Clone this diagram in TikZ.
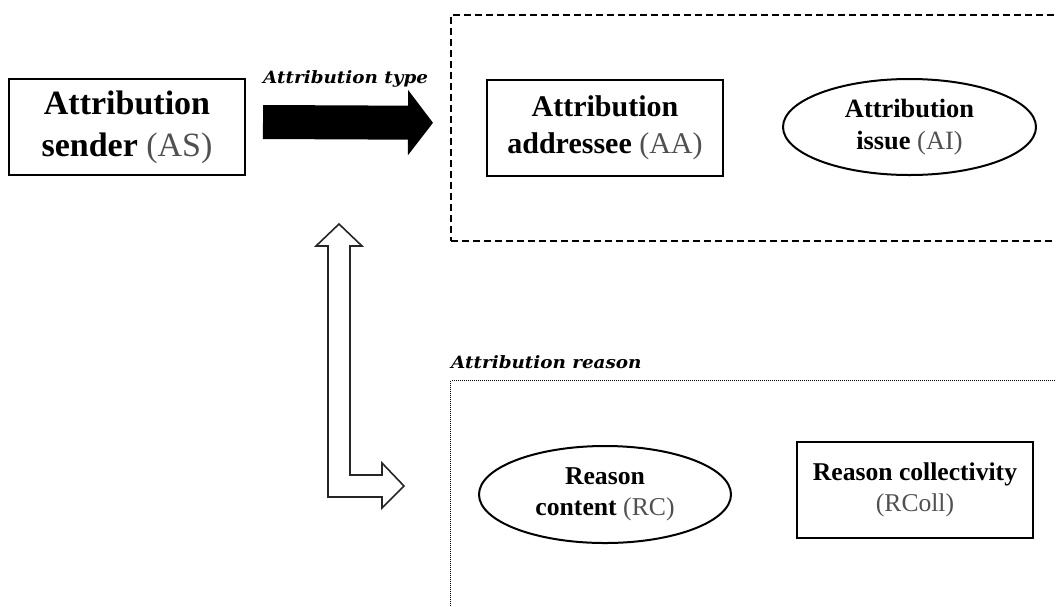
\documentclass[tikz,border=0pt]{standalone}
\usepackage{fontspec}
\setmainfont{Liberation Serif}
\newfontfamily\labelfont[FakeStretch=1.08]{DejaVu Serif}
\usepackage{tikz}
\usetikzlibrary{shapes,arrows.meta,positioning}
\definecolor{parengray}{HTML}{505050}
\newcommand{\abbr}[1]{{\mdseries\color{parengray}(#1)}}
\newcommand{\fs}[1]{\fontsize{#1}{1.23\dimexpr #1pt\relax}\selectfont\bfseries}

\begin{document}
\begin{tikzpicture}[x=1pt,y=-1pt,
	box/.style={rectangle,draw,line width=2pt,minimum width=236pt,minimum height=96pt,align=center,inner sep=2pt},
	oval/.style={box,ellipse,minimum width=253pt},
	grouplabel/.style={anchor=base west,inner sep=0pt,font=\labelfont\fontsize{17}{20}\selectfont\bfseries\itshape},
	typegroup/.style={draw,line width=1.6pt,dash pattern=on 7pt off 4pt,anchor=north west,minimum width=700pt},
	reasongroup/.style={draw,line width=1.3pt,dash pattern=on 1pt off 1pt,anchor=north west,minimum width=700pt},
	typearrow/.style={line width=34pt,-{Triangle[length=25pt,width=64pt]}},
	hollowarrow/.style={draw=black!85,line width=1.6pt,fill=white,line join=miter}]

	\useasboundingbox (0,0) rectangle (1056,606);
	\clip (0,0) rectangle (1056,606);

	% groups
	\node[typegroup,minimum height=226pt] (addr) at (450,14) {};
	\node[reasongroup,minimum height=300pt] (reason) at (450,380) {};
	\node[grouplabel] (typelbl) at (263,83) {Attribution type};
	\node[grouplabel] (reasonlbl) at (451,368) {Attribution reason};

	% entities
	\node[box,font=\fs{34}] (AS) at (127,127) {Attribution\\sender \abbr{AS}};
	\node[box,font=\fs{30}] (AA) at (605,127.5) {Attribution\\addressee \abbr{AA}};
	\node[oval,font=\fs{26.4}] (AI) at (909.5,127) {Attribution\\issue \abbr{AI}};
	\node[oval,font=\fs{25.7},minimum width=252pt,minimum height=97pt] (RC) at (605,494.5) {Reason\\content \abbr{RC}};
	\node[box,font=\fs{25.6}] (RColl) at (915,490) {Reason collectivity\\\abbr{RColl}};

	% arrows
	\draw[typearrow] ([xshift=17pt,yshift=5pt]AS.east) -- ([xshift=-17pt,yshift=5pt]addr.west);
	\draw[hollowarrow] (339,224) -- (362,246) -- (350,246) -- (350,475) -- (382,475) -- (382,463)
		-- (404,486) -- (382,508) -- (382,497) -- (328,497) -- (328,246) -- (316,246) -- cycle;
\end{tikzpicture}
\end{document}
